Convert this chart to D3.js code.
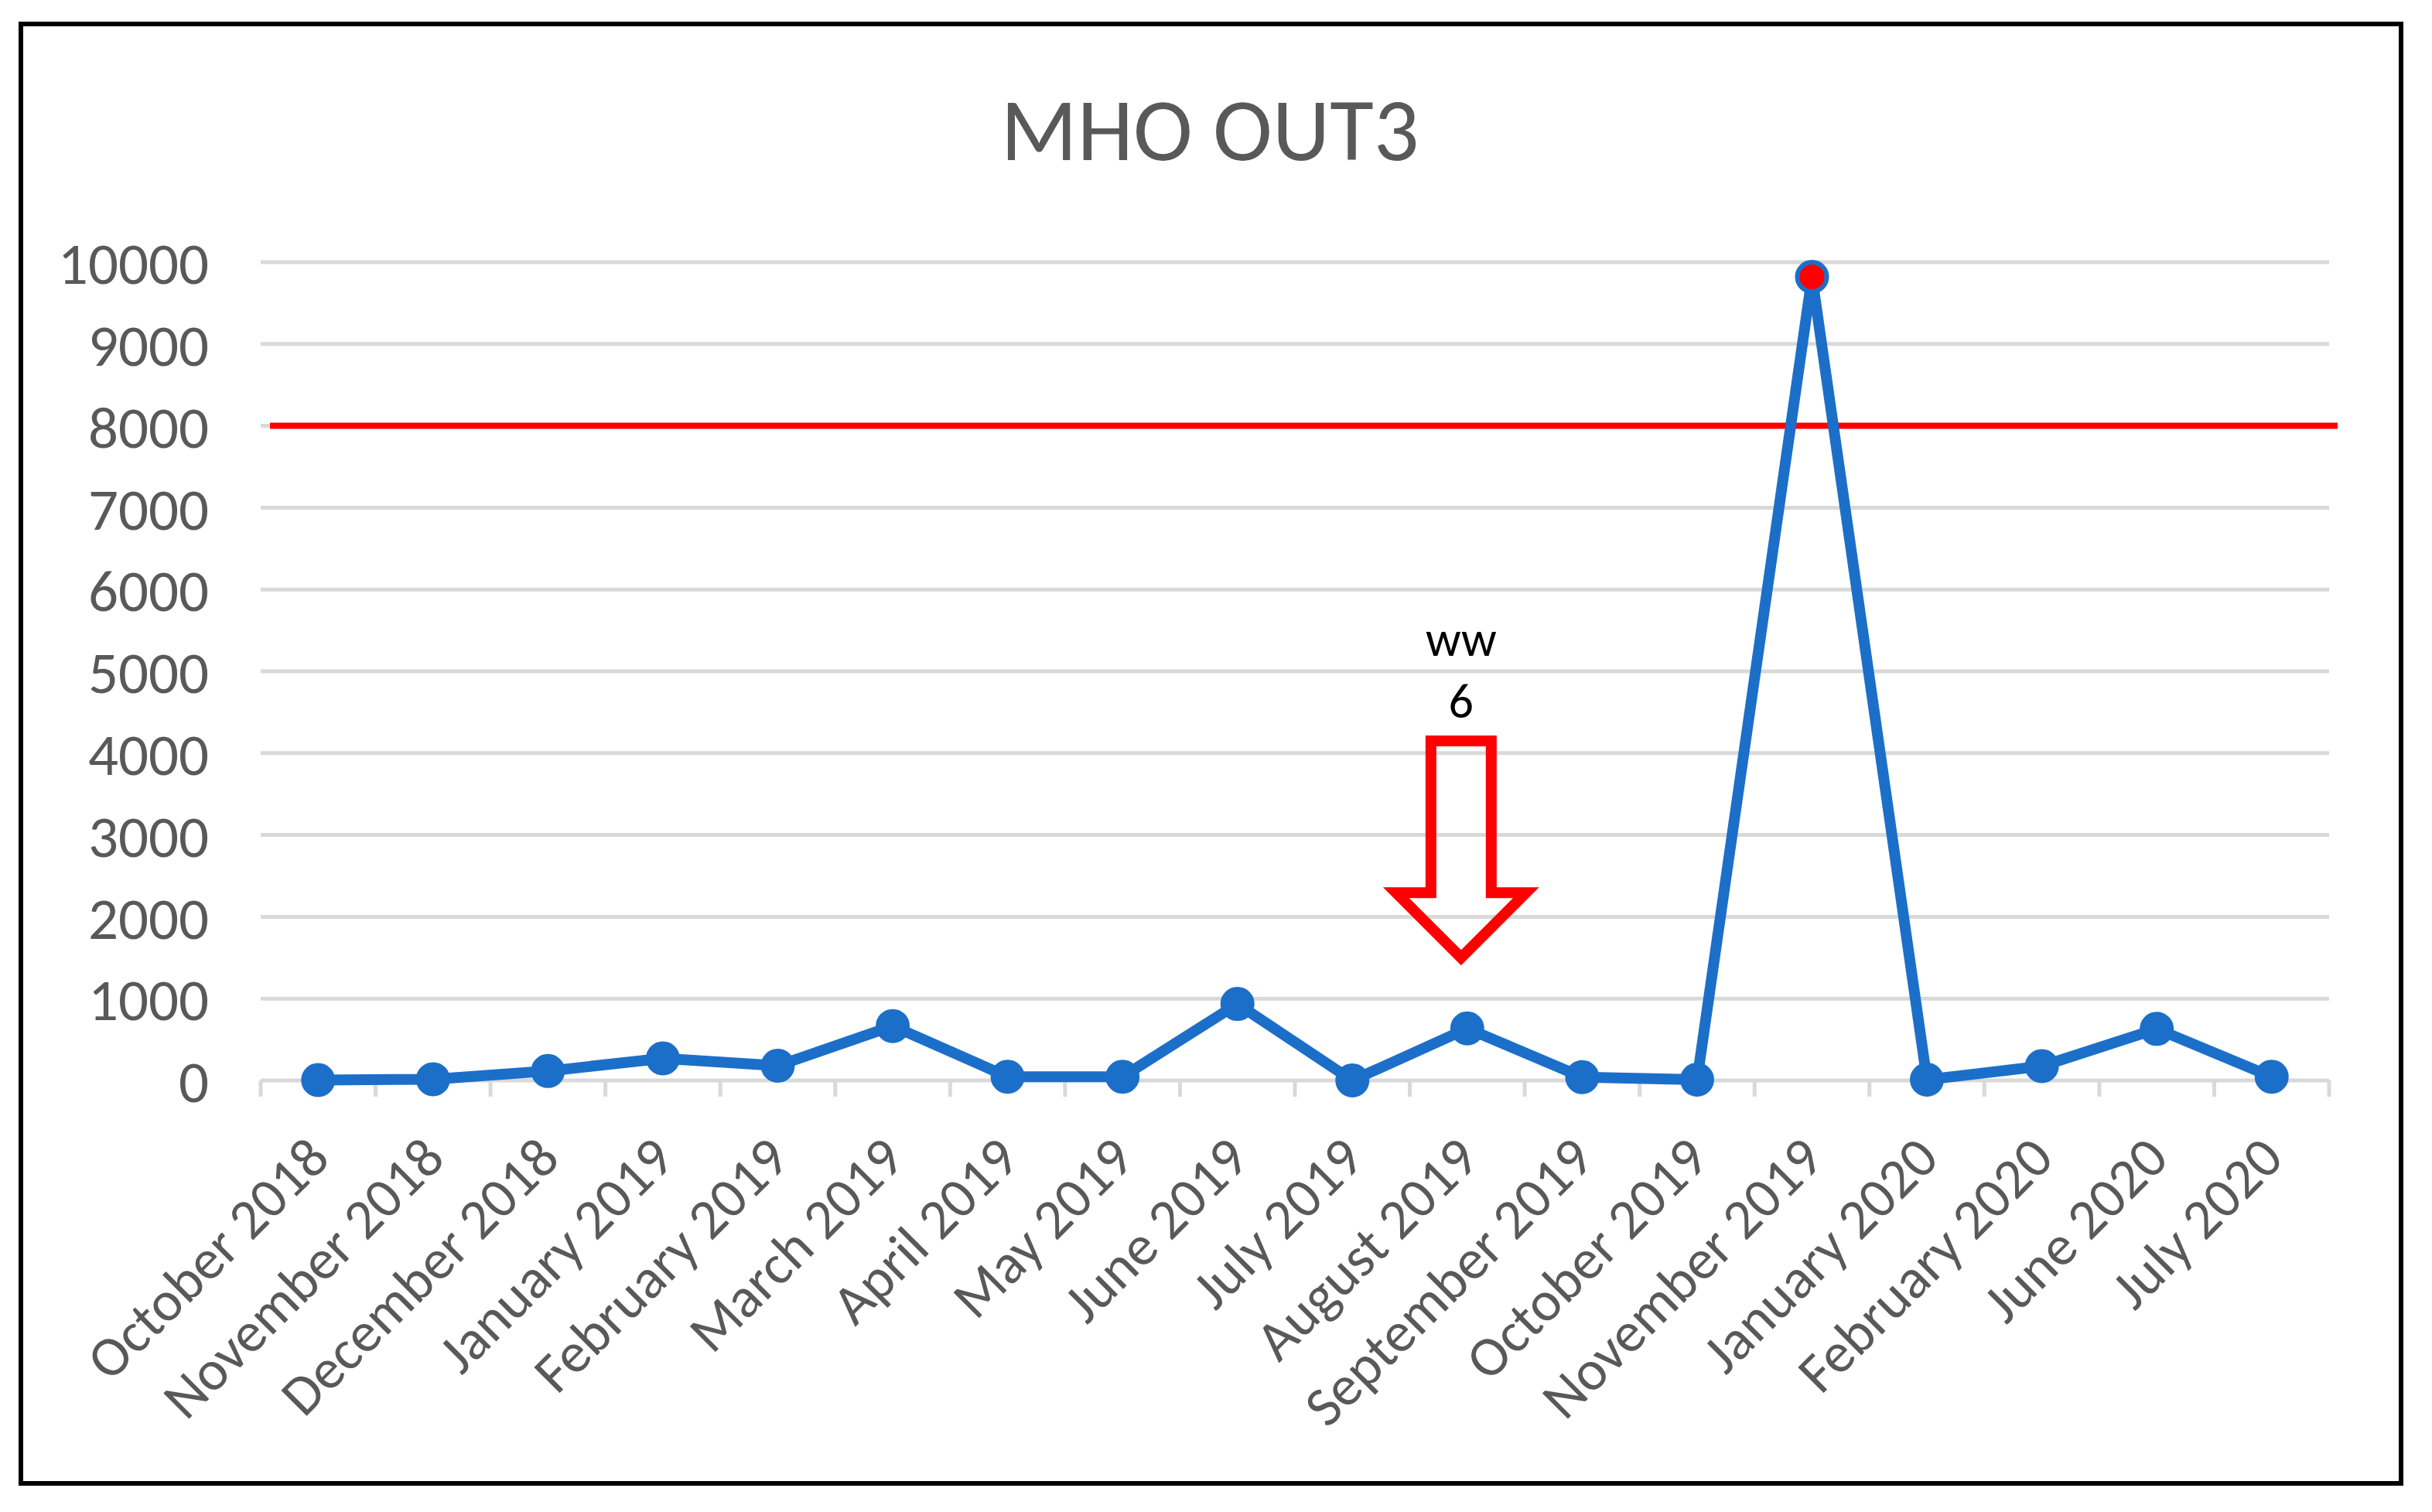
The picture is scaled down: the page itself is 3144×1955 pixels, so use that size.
<!DOCTYPE html>
<html>
<head>
<meta charset="utf-8">
<script src="https://cdn.jsdelivr.net/npm/d3@7"></script>
<style>
  html, body { margin: 0; padding: 0; background: #ffffff; }
  svg { display: block; }
</style>
</head>
<body>
<svg id="chart" width="3144" height="1955"></svg>
<script>
// ---- data ----
const chartTitle = "MHO OUT3";
const categories = [
  "October 2018", "November 2018", "December 2018", "January 2019", "February 2019",
  "March 2019", "April 2019", "May 2019", "June 2019", "July 2019", "August 2019",
  "September 2019", "October 2019", "November 2019", "January 2020", "February 2020",
  "June 2020", "July 2020"
];
const values = [5, 15, 115, 270, 180, 665, 45, 45, 935, 0, 635, 40, 10, 9820, 10, 175, 630, 45];
const yTicks = [0, 1000, 2000, 3000, 4000, 5000, 6000, 7000, 8000, 9000, 10000];
const thresholdValue = [8000];
const highlightCategory = ["November 2019"];
const annotationCategory = ["August 2019"];
const annotationText = ["ww", "6"];
const annotationArrowValues = [4150, 1500]; // top of arrow, tip of arrow

// ---- layout ----
const W = 3144, H = 1955;
const plot = { left: 337, right: 3011, top: 339, bottom: 1397 };
const FONT = "Carlito, Calibri, Lato, 'Open Sans', sans-serif";
const BLUE = "#1c6fc9";
const GRID = "#d9d9d9";
const TEXT = "#595959";

const svg = d3.select("#chart");
svg.append("rect").attr("x", 0).attr("y", 0).attr("width", W).attr("height", H).attr("fill", "#fff");

// outer border
svg.append("rect")
  .attr("x", 27).attr("y", 31).attr("width", 3077).attr("height", 1887)
  .attr("fill", "none").attr("stroke", "#000").attr("stroke-width", 6);

const x = d3.scaleBand().domain(categories).range([plot.left, plot.right]).padding(0);
const y = d3.scaleLinear().domain([0, 10000]).range([plot.bottom, plot.top]);
const cx = c => x(c) + x.bandwidth() / 2;

// title
svg.append("text")
  .attr("x", 1564).attr("y", 207)
  .attr("text-anchor", "middle")
  .attr("font-family", FONT).attr("font-size", 116)
  .attr("fill", TEXT)
  .text(chartTitle);

// gridlines
svg.append("g").selectAll("line").data(yTicks).join("line")
  .attr("x1", plot.left).attr("x2", plot.right)
  .attr("y1", d => y(d)).attr("y2", d => y(d))
  .attr("stroke", GRID).attr("stroke-width", 5);

// y axis labels
const yAxis = d3.axisLeft(y).tickValues(yTicks).tickSize(0).tickPadding(0).tickFormat(d3.format("d"));
const gy = svg.append("g").attr("transform", `translate(270,0)`).call(yAxis);
gy.select(".domain").remove();
gy.selectAll("text")
  .attr("font-family", FONT).attr("font-size", 77).attr("fill", TEXT)
  .attr("dy", "0.36em");

// x axis tick marks at band boundaries
const boundaries = d3.range(categories.length + 1).map(i => plot.left + i * x.step());
svg.append("g").selectAll("line").data(boundaries).join("line")
  .attr("x1", d => d).attr("x2", d => d)
  .attr("y1", plot.bottom).attr("y2", plot.bottom + 21)
  .attr("stroke", GRID).attr("stroke-width", 5);

// x labels
svg.append("g").selectAll("text").data(categories).join("text")
  .attr("transform", d => `translate(${cx(d) + 18},${plot.bottom + 104}) rotate(-45)`)
  .attr("text-anchor", "end")
  .attr("font-family", FONT).attr("font-size", 73).attr("fill", TEXT)
  .text(d => d);

// threshold line
svg.append("g").selectAll("line").data(thresholdValue).join("line")
  .attr("x1", plot.left + 12).attr("x2", plot.right + 11)
  .attr("y1", d => y(d)).attr("y2", d => y(d))
  .attr("stroke", "#ff0000").attr("stroke-width", 8);

// series line
const pts = categories.map((c, i) => ({ c, v: values[i] }));
svg.append("path")
  .datum(pts)
  .attr("fill", "none").attr("stroke", BLUE).attr("stroke-width", 14)
  .attr("stroke-linejoin", "round")
  .attr("d", d3.line().x(d => cx(d.c)).y(d => y(d.v)));

// markers
svg.append("g").selectAll("circle").data(pts).join("circle")
  .attr("cx", d => cx(d.c)).attr("cy", d => y(d.v))
  .attr("r", 19)
  .attr("fill", d => highlightCategory.includes(d.c) ? "#ff0000" : BLUE)
  .attr("stroke", BLUE).attr("stroke-width", 6);

// annotation arrow (hollow down arrow)
const ax = cx(annotationCategory[0]) - 8;
const aTop = y(annotationArrowValues[0]);
const aTip = y(annotationArrowValues[1]);
const shaftHalf = 39, headHalf = 84;
const aShoulder = aTip - headHalf;
const arrowPts = [
  [ax - shaftHalf, aTop], [ax + shaftHalf, aTop], [ax + shaftHalf, aShoulder],
  [ax + headHalf, aShoulder], [ax, aTip], [ax - headHalf, aShoulder], [ax - shaftHalf, aShoulder]
];
svg.append("path")
  .attr("d", d3.line()(arrowPts) + "Z")
  .attr("fill", "none").attr("stroke", "#ff0000").attr("stroke-width", 14)
  .attr("stroke-linejoin", "miter");

svg.append("g").selectAll("text").data(annotationText).join("text")
  .attr("x", ax)
  .attr("y", (d, i) => aTop - 30 - (annotationText.length - 1 - i) * 80)
  .attr("text-anchor", "middle")
  .attr("font-family", FONT).attr("font-size", 64).attr("fill", "#000")
  .text(d => d);
</script>
</body>
</html>
